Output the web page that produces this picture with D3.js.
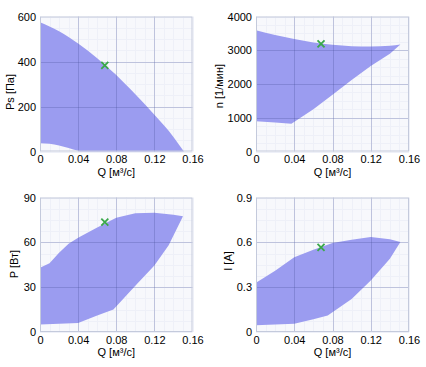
<!DOCTYPE html>
<html><head><meta charset="utf-8">
<script src="https://cdn.jsdelivr.net/npm/d3@7"></script>
<style>
html,body{margin:0;padding:0;background:#fff;}
svg{display:block;}
text{font-family:"Liberation Sans",Arial,sans-serif;font-size:11px;fill:#000;}
</style></head>
<body>
<svg id="c" width="426" height="367"></svg>
<script>
// ---- data ----
const qTicks = [0, 0.04, 0.08, 0.12, 0.16];
const qTickLabels = ["0", "0.04", "0.08", "0.12", "0.16"];
const xLabel = "Q [м³/с]";

// Ps chart
const psTicks = [0, 200, 400, 600];
const qPsUpper = [0, 0.02, 0.04, 0.06, 0.08, 0.10, 0.12, 0.14, 0.151];
const psUpper  = [575, 535, 480, 415, 340, 254, 163, 65, 0];
const qPsLower = [0, 0.01, 0.02, 0.03, 0.04, 0.042, 0.151];
const psLower  = [37, 34, 27, 16, 3, 0, 0];

// n chart
const nTicks = [0, 1000, 2000, 3000, 4000];
const qNUpper = [0, 0.02, 0.04, 0.06, 0.08, 0.10, 0.12, 0.14, 0.151];
const nUpper  = [3590, 3450, 3330, 3230, 3160, 3120, 3110, 3130, 3170];
const qNLower = [0, 0.02, 0.037, 0.06, 0.08, 0.10, 0.12, 0.14, 0.151];
const nLower  = [900, 860, 820, 1250, 1680, 2120, 2530, 2900, 3170];

// P chart
const pTicks = [0, 30, 60, 90];
const qPUpper = [0, 0.01, 0.02, 0.03, 0.04, 0.06, 0.08, 0.10, 0.12, 0.14, 0.15];
const pUpper  = [43, 46, 53, 59, 63, 70, 76.5, 79.5, 79.8, 78.5, 77.5];
const qPLower = [0, 0.02, 0.04, 0.06, 0.077, 0.10, 0.12, 0.135, 0.15];
const pLower  = [5, 5.5, 6, 11, 15, 31, 44.5, 58, 77.5];

// I chart
const iTicks = [0, 0.3, 0.6, 0.9];
const iTickLabels = ["0", "0.3", "0.6", "0.9"];
const qIUpper = [0, 0.02, 0.04, 0.06, 0.08, 0.10, 0.12, 0.14, 0.151];
const iUpper  = [0.329, 0.41, 0.50, 0.55, 0.595, 0.618, 0.636, 0.62, 0.602];
const qILower = [0, 0.04, 0.06, 0.075, 0.10, 0.12, 0.14, 0.151];
const iLower  = [0.045, 0.055, 0.085, 0.11, 0.22, 0.345, 0.49, 0.602];

// operating point
const opQ = 0.068;
const opValues = [383, 3190, 73.5, 0.567];

const charts = [
  {yLabel:"Ps [Па]", yMax:600, yTicks:psTicks, yTickLabels:psTicks.map(String), qU:qPsUpper, vU:psUpper, qL:qPsLower, vL:psLower, op:opValues[0],
   smoothU:true, smoothL:true, box:{l:40,t:16.5,r:192.5,b:151.5}, ylx:10.5, yly:92, xly:176},
  {yLabel:"n [1/мин]", yMax:4000, yTicks:nTicks, yTickLabels:nTicks.map(String), qU:qNUpper, vU:nUpper, qL:qNLower, vL:nLower, op:opValues[1],
   smoothU:true, smoothL:false, box:{l:256,t:16.5,r:409,b:151.5}, ylx:219.5, yly:86, xly:176},
  {yLabel:"P [Вт]", yMax:90, yTicks:pTicks, yTickLabels:pTicks.map(String), qU:qPUpper, vU:pUpper, qL:qPLower, vL:pLower, op:opValues[2],
   smoothU:false, smoothL:false, box:{l:40,t:197.5,r:192.5,b:332}, ylx:14, yly:264, xly:356},
  {yLabel:"I [A]", yMax:0.9, yTicks:iTicks, yTickLabels:iTickLabels, qU:qIUpper, vU:iUpper, qL:qILower, vL:iLower, op:opValues[3],
   smoothU:false, smoothL:false, box:{l:256,t:197.5,r:409,b:332}, ylx:228.5, yly:261, xly:356}
];

const svg = d3.select("#c");

charts.forEach(c => {
  const b = c.box;
  const x = d3.scaleLinear().domain([0, 0.16]).range([b.l, b.r]);
  const y = d3.scaleLinear().domain([0, c.yMax]).range([b.b, b.t]);
  const g = svg.append("g");

  // background
  g.append("rect").attr("x", b.l).attr("y", b.t).attr("width", b.r - b.l).attr("height", b.b - b.t)
    .attr("fill", "#f7f8fc");

  // minor grid
  const minorX = d3.range(0, 0.16 + 1e-9, 0.01);
  const yStep = c.yTicks[1] - c.yTicks[0];
  const minorY = d3.range(0, c.yMax + 1e-9, yStep / 4);
  g.selectAll(".mx").data(minorX).join("line")
    .attr("x1", d => Math.round(x(d)) + 0.5).attr("x2", d => Math.round(x(d)) + 0.5).attr("y1", b.t).attr("y2", b.b)
    .attr("stroke", "#eef0f8").attr("stroke-width", 1);
  g.selectAll(".my").data(minorY).join("line")
    .attr("y1", d => Math.round(y(d)) + 0.5).attr("y2", d => Math.round(y(d)) + 0.5).attr("x1", b.l).attr("x2", b.r)
    .attr("stroke", "#eef0f8").attr("stroke-width", 1);

  // fill polygon: upper boundary left->right, lower boundary right->left
  const upperPts = c.qU.map((q, i) => [q, c.vU[i]]);
  const lowerPts = c.qL.map((q, i) => [q, c.vL[i]]).reverse();
  const lineU = d3.line().x(d => x(d[0])).y(d => y(d[1])).curve(c.smoothU ? d3.curveMonotoneX : d3.curveLinear);
  const lineL = d3.line().x(d => x(d[0])).y(d => y(d[1])).curve(c.smoothL ? d3.curveMonotoneX : d3.curveLinear);
  const dPath = lineU(upperPts) + lineL(lowerPts).replace(/^M/, "L") + "Z";
  g.append("path").attr("d", dPath).attr("fill", "#9b9cf0").attr("stroke", "none");

  // major grid (over fill)
  g.selectAll(".gx").data(qTicks.slice(1, -1)).join("line")
    .attr("x1", d => Math.round(x(d)) + 0.5).attr("x2", d => Math.round(x(d)) + 0.5).attr("y1", b.t).attr("y2", b.b)
    .attr("stroke", "rgba(70,80,150,0.28)").attr("stroke-width", 1);
  g.selectAll(".gy").data(c.yTicks.slice(1, -1)).join("line")
    .attr("y1", d => Math.round(y(d)) + 0.5).attr("y2", d => Math.round(y(d)) + 0.5).attr("x1", b.l).attr("x2", b.r)
    .attr("stroke", "rgba(70,80,150,0.28)").attr("stroke-width", 1);

  // border
  g.append("rect").attr("x", b.l + 0.5).attr("y", b.t + 0.5).attr("width", b.r - b.l - 1).attr("height", b.b - b.t - 1)
    .attr("fill", "none").attr("stroke", "#c4cadc");

  // axes (labels only)
  const xa = d3.axisBottom(x).tickValues(qTicks).tickFormat((d, i) => qTickLabels[i]).tickSize(0).tickPadding(4);
  const xg = g.append("g").attr("transform", `translate(0,${b.b})`).call(xa);
  xg.select(".domain").remove();
  xg.selectAll("text").attr("font-size", 11).attr("font-family", null).attr("fill", "#000");

  const ya = d3.axisLeft(y).tickValues(c.yTicks).tickFormat((d, i) => c.yTickLabels[i]).tickSize(0).tickPadding(4);
  const yg = g.append("g").attr("transform", `translate(${b.l},0)`).call(ya);
  yg.select(".domain").remove();
  yg.selectAll("text").attr("font-size", 11).attr("font-family", null).attr("fill", "#000");

  // axis titles
  g.append("text").attr("x", (b.l + b.r) / 2).attr("y", c.xly).attr("text-anchor", "middle").text(xLabel);
  g.append("text").attr("transform", `translate(${c.ylx},${c.yly}) rotate(-90)`)
    .attr("text-anchor", "middle").attr("dy", "0.35em").text(c.yLabel);

  // operating point marker
  const mx = x(opQ), my = y(c.op), s = 3.5;
  g.append("path").attr("d", `M${mx - s},${my - s}L${mx + s},${my + s}M${mx - s},${my + s}L${mx + s},${my - s}`)
    .attr("stroke", "#3aa84a").attr("stroke-width", 1.8).attr("fill", "none");
});
</script>
</body></html>
